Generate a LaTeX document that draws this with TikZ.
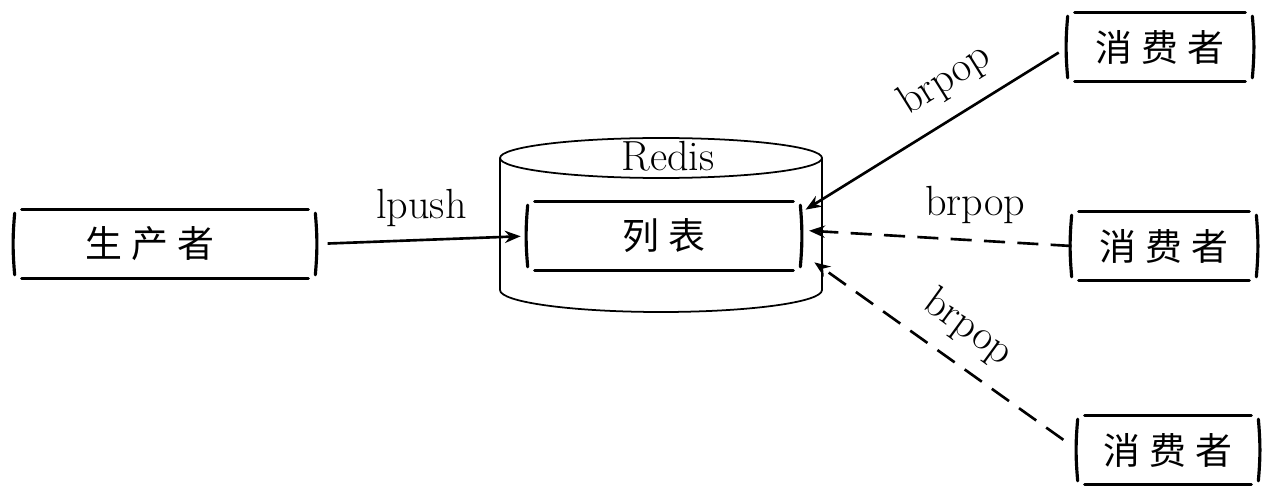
\documentclass[tikz,border=0pt]{standalone}
\usepackage{fontspec}
\newfontfamily\cjk[LetterSpace=24]{Noto Sans CJK SC}
\usetikzlibrary{arrows.meta}
\usetikzlibrary{positioning}
\tikzset{sketchbox/.style={minimum height=1.36cm,inner sep=0pt,font=\cjk\fontsize{21}{24}\selectfont},
         frame/.style={line width=1.8pt,line cap=round},
         pop/.style={line width=1.5pt,-{Stealth[length=9pt,width=7pt]}},
         lbl/.style={font=\fontsize{24}{28}\selectfont,inner sep=1pt},
         }
\newcommand{\sketchframe}[1]{%
  \draw[frame] ([xshift=4pt]#1.north west) -- ([xshift=-4pt]#1.north east);
  \draw[frame] ([xshift=4pt]#1.south west) -- ([xshift=-4pt]#1.south east);
  \draw[frame] ([yshift=-2pt]#1.north west) to[bend right=5] ([yshift=2pt]#1.south west);
  \draw[frame] ([yshift=-2pt]#1.north east) to[bend left=5] ([yshift=2pt]#1.south east);
}

\begin{document}
\begin{tikzpicture}[x=0.02cm,y=-0.02cm]
\useasboundingbox (0,0) rectangle (1266,486);
% redis cylinder
\draw[line width=1pt] (500,158) -- (500,290) arc[start angle=180,end angle=0,x radius=161,y radius=22] -- (822,158);
\draw[line width=1pt] (661,158) ellipse[x radius=161,y radius=20];
\node[lbl] (redis) at (668,156) {Redis};
% boxes
\node[sketchbox,minimum width=6cm] (prod) at (165,244) {\hspace*{-0.6cm}生产者};
\node[sketchbox,minimum width=5.44cm] (list) at (664,236) {列表};
\node[sketchbox,minimum width=3.68cm] (cons1) at (1160,47) {消费者};
\node[sketchbox,minimum width=3.68cm] (cons2) at (1164,246) {消费者};
\node[sketchbox,minimum width=3.6cm] (cons3) at (1168,450) {消费者};
\foreach \b in {prod,list,cons1,cons2,cons3} {\sketchframe{\b}}
% arrows
\draw[pop,shorten <=7pt,shorten >=4pt] (prod.east) -- (list.west) node[lbl,midway,above=6pt] {lpush};
\draw[pop,shorten <=6pt] (cons1.west) -- ([xshift=3pt,yshift=15pt]list.east);
\draw[pop,dashed,dash pattern=on 12pt off 7pt] (cons2.west) -- ([xshift=5pt,yshift=3pt]list.east);
\draw[pop,dashed,dash pattern=on 12pt off 7pt,shorten <=10pt] (cons3.west) -- ([xshift=8pt,yshift=-15pt]list.east);
% labels
\node[lbl,rotate=32] (pop1) at (945,80) {brpop};
\node[lbl] (pop2) at (975,205) {brpop};
\node[lbl,rotate=-36] (pop3) at (968,328) {brpop};
\end{tikzpicture}
\end{document}
